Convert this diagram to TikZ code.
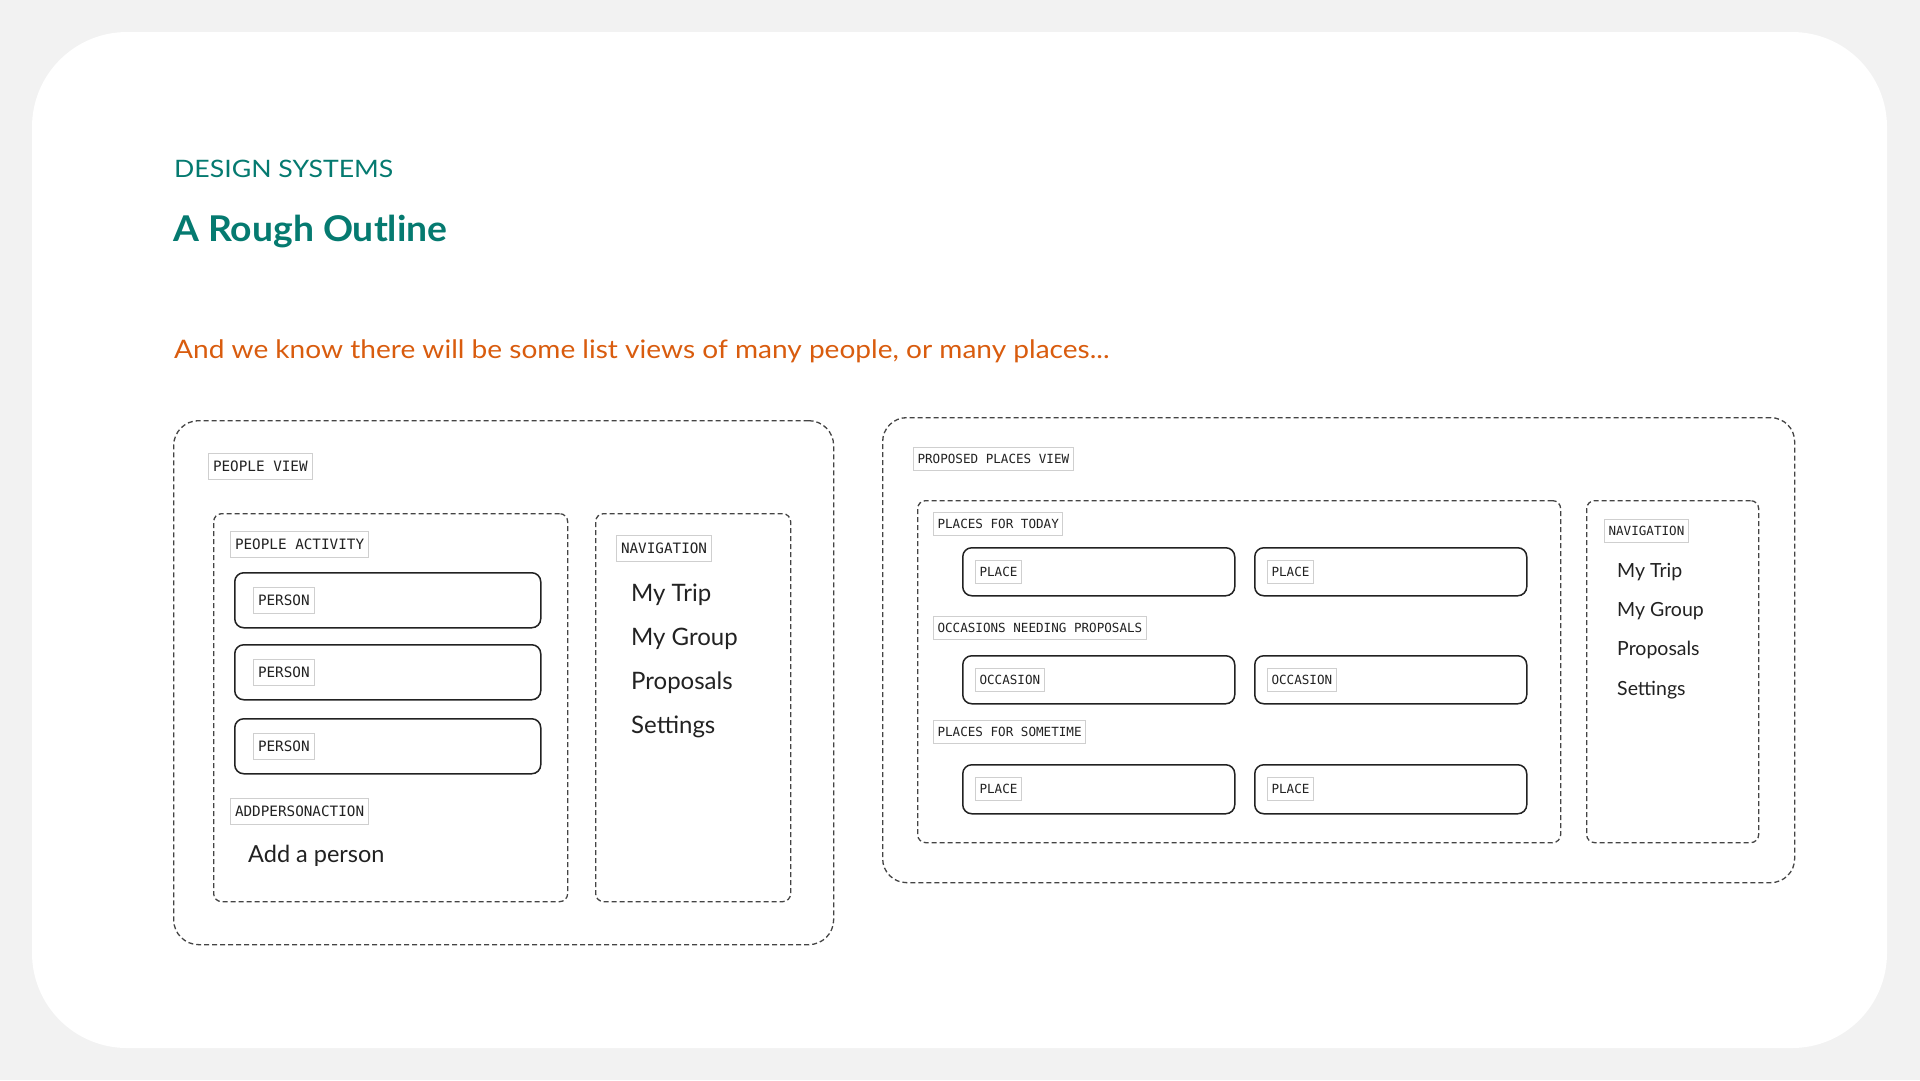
\documentclass[tikz,border=0pt]{standalone}
\usepackage{fontspec}
\setmainfont{Lato}
\newfontfamily\monofnt{DejaVu Sans Mono}
\newfontfamily\kickerfnt[FakeStretch=1.11]{Lato}
\newfontfamily\titlefnt[FakeStretch=1.05]{Lato Bold}
\newfontfamily\leadfnt[FakeStretch=1.10]{Lato}
\definecolor{teal1}{HTML}{057A70}
\definecolor{orange1}{HTML}{D95C0E}
\definecolor{bggray}{HTML}{F2F2F2}
\definecolor{dashgray}{HTML}{444444}
\definecolor{labborder}{HTML}{CFCFCF}
\definecolor{inkdark}{HTML}{222222}
\tikzset{
  dashbox/.style={draw=dashgray, line width=1.3pt, dash pattern=on 5pt off 3pt, rounded corners=#1, anchor=north west, inner sep=0pt},
  dashbox/.default=8pt,
  itembox/.style={draw=inkdark, line width=1.5pt, rounded corners=9pt, anchor=north west, inner sep=0pt, fill=white},
  lab/.style={draw=labborder, line width=1pt, fill=white, anchor=west, inner xsep=4.5pt, inner ysep=0pt, minimum height=26pt, text=inkdark, font=\monofnt\fontsize{14.3}{14.3}\selectfont},
  labs/.style={lab, minimum height=23pt, inner xsep=4pt, font=\monofnt\fontsize{12.6}{12.6}\selectfont},
  navbig/.style={anchor=base west, inner sep=0pt, text=inkdark, font=\fontsize{24}{24}\selectfont},
  navsmall/.style={anchor=base west, inner sep=0pt, text=inkdark, font=\fontsize{19.5}{19.5}\selectfont},
}
\begin{document}
\begin{tikzpicture}[x=1pt,y=-1pt]
\fill[bggray] (0,0) rectangle (1920,1080);
\useasboundingbox (0,0) rectangle (1920,1080);
\fill[white, rounded corners=95pt] (32,32) rectangle (1887,1048);

% headings
\node[anchor=base west, inner sep=0pt, text=teal1, font=\kickerfnt\fontsize{24}{24}\selectfont] (kicker) at (174,177) {DESIGN SYSTEMS};
\node[anchor=base west, inner sep=0pt, text=teal1, font=\titlefnt\fontsize{35.5}{35.5}\selectfont] (title) at (173,241) {A Rough Outline};
\node[anchor=base west, inner sep=0pt, text=orange1, font=\leadfnt\fontsize{25.5}{25.5}\selectfont] (lead) at (174,358) {And we know there will be some list views of many people, or many places...};

% ---------------- People view ----------------
\node[dashbox=25pt, minimum width=660pt, minimum height=524pt] (pv) at (173,420) {};
\node[lab] (pvlab) at (208,466) {PEOPLE VIEW};

\node[dashbox, minimum width=354pt, minimum height=388pt] (pa) at (213,513) {};
\node[lab] (palab) at (230,544) {PEOPLE ACTIVITY};

\node[itembox, minimum width=306pt, minimum height=55pt] (p1) at (234,572) {};
\node[itembox, minimum width=306pt, minimum height=55pt] (p2) at (234,644) {};
\node[itembox, minimum width=306pt, minimum height=55pt] (p3) at (234,718) {};
\node[lab] (p1lab) at ([xshift=19pt]p1.west) {PERSON};
\node[lab] (p2lab) at ([xshift=19pt]p2.west) {PERSON};
\node[lab] (p3lab) at ([xshift=19pt]p3.west) {PERSON};

\node[lab] (addlab) at (230,811) {ADDPERSONACTION};
\node[navbig, font=\fontsize{23.5}{23.5}\selectfont] (addtxt) at (248,862) {Add a person};

\node[dashbox, minimum width=195pt, minimum height=388pt] (nav1) at (595,513) {};
\node[lab] (nav1lab) at (616,548) {NAVIGATION};
\node[navbig] (n1a) at (631,601) {My Trip};
\node[navbig] (n1b) at (631,645) {My Group};
\node[navbig] (n1c) at (631,689) {Proposals};
\node[navbig] (n1d) at (631,733) {Settings};

% ---------------- Proposed places view ----------------
\node[dashbox=24pt, minimum width=912pt, minimum height=465pt] (ppv) at (882,417) {};
\node[labs] (ppvlab) at (913,458.5) {PROPOSED PLACES VIEW};

\node[dashbox, minimum width=643pt, minimum height=342pt] (plc) at (917,500) {};
\node[labs] (todaylab) at (933,523.5) {PLACES FOR TODAY};
\node[itembox, minimum width=272pt, minimum height=48pt] (t1) at (962,547) {};
\node[itembox, minimum width=272pt, minimum height=48pt] (t2) at (1254,547) {};
\node[labs] (t1lab) at ([xshift=13pt]t1.west) {PLACE};
\node[labs] (t2lab) at ([xshift=13pt]t2.west) {PLACE};

\node[labs] (occlab) at (933,627.5) {OCCASIONS NEEDING PROPOSALS};
\node[itembox, minimum width=272pt, minimum height=48pt] (o1) at (962,655) {};
\node[itembox, minimum width=272pt, minimum height=48pt] (o2) at (1254,655) {};
\node[labs] (o1lab) at ([xshift=13pt]o1.west) {OCCASION};
\node[labs] (o2lab) at ([xshift=13pt]o2.west) {OCCASION};

\node[labs] (somelab) at (933,732) {PLACES FOR SOMETIME};
\node[itembox, minimum width=272pt, minimum height=49pt] (s1) at (962,764) {};
\node[itembox, minimum width=272pt, minimum height=49pt] (s2) at (1254,764) {};
\node[labs] (s1lab) at ([xshift=13pt]s1.west) {PLACE};
\node[labs] (s2lab) at ([xshift=13pt]s2.west) {PLACE};

\node[dashbox, minimum width=172pt, minimum height=342pt] (nav2) at (1586,500) {};
\node[labs] (nav2lab) at (1604,530.5) {NAVIGATION};
\node[navsmall] (n2a) at (1617,577) {My Trip};
\node[navsmall] (n2b) at (1617,616) {My Group};
\node[navsmall] (n2c) at (1617,655) {Proposals};
\node[navsmall] (n2d) at (1617,695) {Settings};
\end{tikzpicture}
\end{document}
